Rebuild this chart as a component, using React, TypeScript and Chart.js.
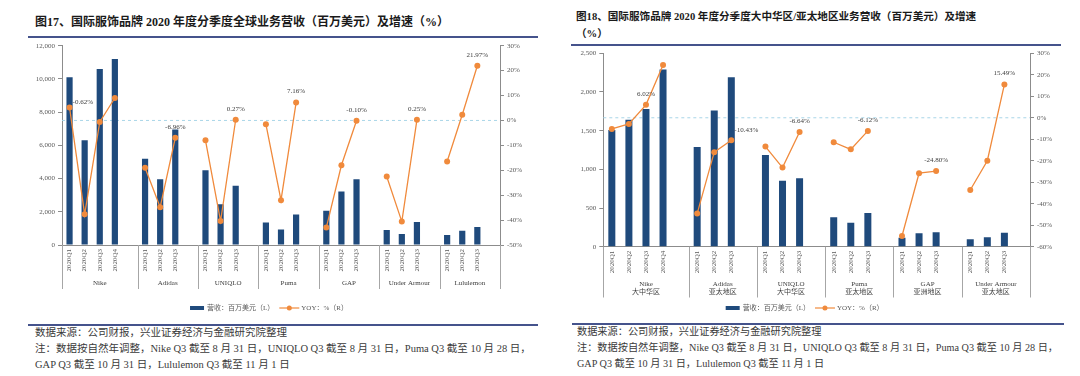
import React, { useEffect, useRef } from "react";
import { Chart, registerables } from "chart.js";

Chart.register(...registerables);

// ---------------- DATA ----------------
const QUARTERS = ["2020Q1", "2020Q2", "2020Q3", "2020Q4"];

// Figure 17: global revenue (USD mn) and YoY (%)
const GLOBAL_BRANDS = ["Nike", "Adidas", "UNIQLO", "Puma", "GAP", "Under Armour", "Lululemon"];
const GLOBAL_REVENUE = [
  [10100, 6300, 10600, 11200],
  [5200, 3960, 6960],
  [4500, 2460, 3560],
  [1360, 940, 1840],
  [2060, 3220, 3960],
  [900, 660, 1380],
  [600, 860, 1080],
];
const GLOBAL_YOY = [
  [5.2, -37.7, -0.62, 9.0],
  [-19.0, -34.8, -6.96],
  [-8.0, -40.4, 0.27],
  [-1.5, -32.0, 7.16],
  [-43.0, -18.0, -0.1],
  [-22.5, -40.6, 0.25],
  [-16.5, 2.3, 21.97],
];
const GLOBAL_LEFT_TICKS = [0, 12000, 2000];
const GLOBAL_RIGHT_TICKS = [-50, 30, 10];

// Figure 18: Greater China / APAC revenue (USD mn) and YoY (%)
const REGION_BRANDS = ["Nike", "Adidas", "UNIQLO", "Puma", "GAP", "Under Armour"];
const REGION_NAMES = ["大中华区", "亚太地区", "大中华区", "亚太地区", "亚洲地区", "亚太地区"];
const REGION_REVENUE = [
  [1510, 1640, 1780, 2290],
  [1290, 1760, 2190],
  [1185, 853, 884],
  [380, 310, 436],
  [116, 173, 186],
  [95, 121, 181],
];
const REGION_YOY = [
  [-5.2, -2.9, 6.02, 24.6],
  [-44.6, -16.0, -10.43],
  [-13.4, -23.2, -6.64],
  [-11.4, -14.7, -6.12],
  [-55.0, -25.8, -24.8],
  [-33.6, -20.0, 15.49],
];
const REGION_LEFT_TICKS = [0, 2500, 500];
const REGION_RIGHT_TICKS = [-60, 30, 10];

const LEGEND_BAR = "营收：百万美元（L）";
const LEGEND_LINE = "YOY：%（R）";

// ---------------- STYLE ----------------
const BAR_COLOR = "#1f4a7c";
const LINE_COLOR = "#f08a3c";
const AXIS_COLOR = "#8c8c8c";
const TEXT_COLOR = "#595959";
const SERIF = "'Liberation Serif', 'Noto Sans CJK SC', serif";

function buildSlots(brands: string[], revenue: number[][], yoy: number[][]) {
  const labels: string[] = [];
  const rev: (number | null)[] = [];
  const growth: (number | null)[] = [];
  const groups: { start: number; size: number; name: string }[] = [];
  const labelIdx: number[] = [];
  brands.forEach((b, gi) => {
    const start = labels.length;
    revenue[gi].forEach((v, qi) => {
      labels.push(QUARTERS[qi]);
      rev.push(v);
      growth.push(yoy[gi][qi]);
    });
    labelIdx.push(start + 2);
    labels.push("");
    rev.push(null);
    growth.push(null);
    groups.push({ start, size: labels.length - start, name: b });
  });
  return { labels, rev, growth, groups, labelIdx };
}

const decorPlugin = {
  id: "decor",
  beforeDatasetsDraw(chart: any) {
    const { ctx, chartArea } = chart;
    const y = chart.scales.y1.getPixelForValue(0);
    ctx.save();
    ctx.strokeStyle = "#a9d6e8";
    ctx.lineWidth = 1;
    ctx.setLineDash([3, 3]);
    ctx.beginPath();
    ctx.moveTo(chartArea.left, y);
    ctx.lineTo(chartArea.right, y);
    ctx.stroke();
    ctx.restore();
  },
  afterDraw(chart: any, _args: any, opts: any) {
    const { ctx, chartArea } = chart;
    const n = chart.data.labels.length;
    const slot = (chartArea.right - chartArea.left) / n;
    const bottom = chartArea.bottom;
    ctx.save();
    // group separators
    ctx.strokeStyle = "#a6a6a6";
    ctx.lineWidth = 1;
    const bounds: number[] = [0];
    opts.groups.forEach((g: any) => bounds.push(g.start + g.size));
    bounds.forEach((b: number) => {
      const x = Math.round(chartArea.left + b * slot) + 0.5;
      ctx.beginPath();
      ctx.moveTo(x, bottom);
      ctx.lineTo(x, bottom + opts.sepLen);
      ctx.stroke();
    });
    // group labels
    ctx.fillStyle = "#404040";
    ctx.font = `7px ${SERIF}`;
    ctx.textAlign = "center";
    ctx.textBaseline = "middle";
    opts.groups.forEach((g: any, i: number) => {
      const cx = chartArea.left + (g.start + g.size / 2) * slot;
      ctx.fillText(g.name, cx, bottom + opts.nameY);
      if (opts.subNames) ctx.fillText(opts.subNames[i], cx, bottom + opts.subY);
    });
    // data labels
    const meta = chart.getDatasetMeta(0);
    const values = chart.data.datasets[0].data;
    opts.labelIdx.forEach((idx: number, gi: number) => {
      const pt = meta.data[idx];
      if (!pt) return;
      const shift = (opts.shifts && opts.shifts[gi]) || { dx: 0, dy: -11, align: "center" };
      ctx.textAlign = shift.align;
      ctx.fillStyle = "#404040";
      ctx.fillText(values[idx].toFixed(2) + "%", pt.x + shift.dx, pt.y + shift.dy);
    });
    // legend
    ctx.font = `7px ${SERIF}`;
    ctx.textAlign = "left";
    const w1 = ctx.measureText(LEGEND_BAR).width;
    const w2 = ctx.measureText(LEGEND_LINE).width;
    const total = 14 + 3 + w1 + 5 + 20 + 2 + w2;
    let x = (chartArea.left + chartArea.right) / 2 - 12 - total / 2;
    const ly = opts.legendY;
    ctx.fillStyle = BAR_COLOR;
    ctx.fillRect(x, ly - 2, 14, 4);
    x += 17;
    ctx.fillStyle = TEXT_COLOR;
    ctx.fillText(LEGEND_BAR, x, ly);
    x += w1 + 5;
    ctx.strokeStyle = LINE_COLOR;
    ctx.lineWidth = 1.2;
    ctx.beginPath();
    ctx.moveTo(x, ly);
    ctx.lineTo(x + 20, ly);
    ctx.stroke();
    ctx.fillStyle = LINE_COLOR;
    ctx.beginPath();
    ctx.arc(x + 10, ly, 2.5, 0, Math.PI * 2);
    ctx.fill();
    x += 22;
    ctx.fillStyle = TEXT_COLOR;
    ctx.fillText(LEGEND_LINE, x, ly);
    ctx.restore();
  },
};

type Geo = {
  left: number; top: number; width: number; height: number;
  leftW: number; rightW: number; xH: number; padTop: number; padBottom: number;
  sepLen: number; nameY: number; subY: number; legendY: number;
};

function ComboChart(props: {
  brands: string[]; subNames?: string[]; revenue: number[][]; yoy: number[][];
  leftTicks: number[]; rightTicks: number[]; geo: Geo; shifts?: any;
}) {
  const ref = useRef<HTMLCanvasElement>(null);
  const g = props.geo;
  useEffect(() => {
    const s = buildSlots(props.brands, props.revenue, props.yoy);
    const tickFont = { size: 7, family: SERIF };
    const chart = new Chart(ref.current as HTMLCanvasElement, {
      type: "bar",
      data: {
        labels: s.labels,
        datasets: [
          {
            type: "line",
            label: LEGEND_LINE,
            data: s.growth,
            yAxisID: "y1",
            borderColor: LINE_COLOR,
            backgroundColor: LINE_COLOR,
            borderWidth: 1.3,
            pointRadius: 3,
            pointBorderWidth: 0,
            pointBackgroundColor: LINE_COLOR,
            spanGaps: false,
            order: 0,
          } as any,
          {
            type: "bar",
            label: LEGEND_BAR,
            data: s.rev,
            yAxisID: "y",
            backgroundColor: BAR_COLOR,
            barPercentage: 1,
            categoryPercentage: 0.41,
            order: 1,
          },
        ],
      },
      options: {
        responsive: false,
        animation: false,
        layout: { padding: { top: g.padTop, bottom: g.padBottom, left: 0, right: 0 } },
        plugins: {
          legend: { display: false },
          tooltip: { enabled: false },
          decor: {
            groups: s.groups,
            labelIdx: s.labelIdx,
            subNames: props.subNames,
            sepLen: g.sepLen,
            nameY: g.nameY,
            subY: g.subY,
            legendY: g.legendY,
            shifts: props.shifts,
          },
        } as any,
        scales: {
          x: {
            grid: { display: false, drawTicks: false },
            border: { display: true, color: AXIS_COLOR },
            ticks: {
              autoSkip: false,
              maxRotation: 90,
              minRotation: 90,
              padding: 4,
              font: tickFont,
              color: TEXT_COLOR,
            },
            afterFit: (sc: any) => { sc.height = g.xH; },
          },
          y: {
            position: "left",
            min: props.leftTicks[0],
            max: props.leftTicks[1],
            grid: { drawOnChartArea: false, drawTicks: true, tickLength: 4, color: AXIS_COLOR },
            border: { display: true, color: AXIS_COLOR },
            ticks: { stepSize: props.leftTicks[2], font: tickFont, color: TEXT_COLOR, padding: 3 },
            afterFit: (sc: any) => { sc.width = g.leftW; },
          },
          y1: {
            position: "right",
            min: props.rightTicks[0],
            max: props.rightTicks[1],
            grid: { drawOnChartArea: false, drawTicks: true, tickLength: 4, color: AXIS_COLOR },
            border: { display: true, color: AXIS_COLOR },
            ticks: {
              stepSize: props.rightTicks[2],
              font: tickFont,
              color: TEXT_COLOR,
              padding: 3,
              callback: (v: any) => `${v}%`,
            },
            afterFit: (sc: any) => { sc.width = g.rightW; },
          },
        },
      },
      plugins: [decorPlugin as any],
    });
    return () => chart.destroy();
  }, []);
  return (
    <canvas
      ref={ref}
      width={g.width}
      height={g.height}
      style={{ position: "absolute", left: g.left, top: g.top, width: g.width, height: g.height }}
    />
  );
}

const GEO_LEFT: Geo = {
  left: 20, top: 38, width: 520, height: 277,
  leftW: 42, rightW: 40, xH: 55, padTop: 7.7, padBottom: 15,
  sepLen: 44, nameY: 38.6, subY: 0, legendY: 270,
};
const GEO_RIGHT: Geo = {
  left: 560, top: 46, width: 515, height: 270,
  leftW: 43.3, rightW: 45, xH: 53.3, padTop: 7.3, padBottom: 16,
  sepLen: 50.8, nameY: 37, subY: 45, legendY: 262,
};

const SHIFTS_LEFT: any = { 0: { dx: -17, dy: -19.5, align: "center" } };
const SHIFTS_RIGHT: any = { 1: { dx: 3, dy: -10, align: "left" } };

const textBase: React.CSSProperties = {
  position: "absolute",
  whiteSpace: "nowrap",
  fontFamily: SERIF,
  color: "#3a3a3a",
};

export default function App() {
  return (
    <div style={{ position: "fixed", left: 0, top: 0, width: 1080, height: 376, background: "#fff", overflow: "hidden" }}>
      {/* Left panel */}
      <div style={{ ...textBase, left: 35, top: 15, fontSize: 12, lineHeight: "14px", fontWeight: "bold", color: "#1a1a1a" }}>
        图17、国际服饰品牌 2020 年度分季度全球业务营收（百万美元）及增速（%）
      </div>
      <div style={{ position: "absolute", left: 28, top: 36, width: 510, height: 2, background: "#45538c" }} />
      <ComboChart
        brands={GLOBAL_BRANDS}
        revenue={GLOBAL_REVENUE}
        yoy={GLOBAL_YOY}
        leftTicks={GLOBAL_LEFT_TICKS}
        rightTicks={GLOBAL_RIGHT_TICKS}
        geo={GEO_LEFT}
        shifts={SHIFTS_LEFT}
      />
      <div style={{ position: "absolute", left: 28, top: 324, width: 510, height: 2, background: "#45538c" }} />
      <div style={{ ...textBase, left: 35, top: 326, fontSize: 10.5, lineHeight: "14px" }}>
        数据来源：公司财报，兴业证券经济与金融研究院整理
      </div>
      <div style={{ ...textBase, left: 35, top: 342, fontSize: 10.5, lineHeight: "14px" }}>
        注：数据按自然年调整，Nike Q3 截至 8 月 31 日，UNIQLO Q3 截至 8 月 31 日，Puma Q3 截至 10 月 28 日，
      </div>
      <div style={{ ...textBase, left: 35, top: 358, fontSize: 10.5, lineHeight: "14px" }}>
        GAP Q3 截至 10 月 31 日，Lululemon Q3 截至 11 月 1 日
      </div>

      {/* Right panel */}
      <div style={{ ...textBase, left: 576, top: 10, fontSize: 10.6, lineHeight: "14px", fontWeight: "bold", color: "#1a1a1a" }}>
        图18、国际服饰品牌 2020 年度分季度大中华区/亚太地区业务营收（百万美元）及增速
      </div>
      <div style={{ ...textBase, left: 576, top: 27, fontSize: 10.6, lineHeight: "14px", fontWeight: "bold", color: "#1a1a1a" }}>
        （%）
      </div>
      <div style={{ position: "absolute", left: 571, top: 44, width: 490, height: 2, background: "#45538c" }} />
      <ComboChart
        brands={REGION_BRANDS}
        subNames={REGION_NAMES}
        revenue={REGION_REVENUE}
        yoy={REGION_YOY}
        leftTicks={REGION_LEFT_TICKS}
        rightTicks={REGION_RIGHT_TICKS}
        geo={GEO_RIGHT}
        shifts={SHIFTS_RIGHT}
      />
      <div style={{ position: "absolute", left: 572, top: 323, width: 492, height: 2, background: "#45538c" }} />
      <div style={{ ...textBase, left: 577, top: 325, fontSize: 10.2, lineHeight: "14px" }}>
        数据来源：公司财报，兴业证券经济与金融研究院整理
      </div>
      <div style={{ ...textBase, left: 577, top: 341, fontSize: 10.2, lineHeight: "14px" }}>
        注：数据按自然年调整，Nike Q3 截至 8 月 31 日，UNIQLO Q3 截至 8 月 31 日，Puma Q3 截至 10 月 28 日，
      </div>
      <div style={{ ...textBase, left: 577, top: 357, fontSize: 10.2, lineHeight: "14px" }}>
        GAP Q3 截至 10 月 31 日，Lululemon Q3 截至 11 月 1 日
      </div>
    </div>
  );
}
